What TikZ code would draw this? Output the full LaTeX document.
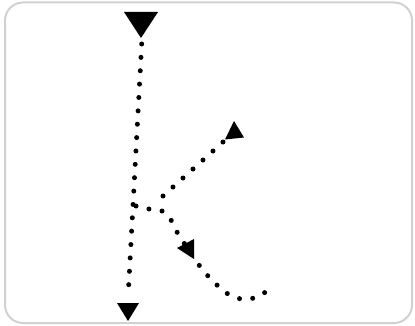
\documentclass[tikz,border=0pt]{standalone}
\begin{document}
\begin{tikzpicture}[x=1pt,y=-1pt,
  frame/.style={draw=black!18, line width=2pt, rounded corners=18pt},
  dotline/.style={line width=5pt, line cap=round, dash pattern=on 0pt off #1},
  tiphead/.style={fill=black}]
\useasboundingbox (0,0) rectangle (415,326);
\draw[frame] (5,2.5) rectangle (412,323);
% stroke 1: vertical
\coordinate (s1a) at (141.7,44);
\coordinate (s1b) at (128,298);
\draw[dotline=13.39pt] (s1a) -- (s1b);
\fill[tiphead] (124,12) -- (158,12) -- (141,38) -- cycle;
\fill[tiphead] (117,303) -- (139,303) -- (128,321) -- cycle;
% stroke 2: diagonal up
\coordinate (s2a) at (163,196);
\coordinate (s2b) at (223,142);
\draw[dotline=13.45pt] (s2a) -- (s2b);
\fill[tiphead] (234,121) -- (244,137.5) -- (225,139.5) -- cycle;
% stroke 3: leg
\draw[dotline=13.28pt] plot[smooth, tension=0.5] coordinates {(136,206) (149,209) (162,211) (171,220) (177,232) (188,249) (199,265) (208,276) (218,286) (228,294) (241,299) (254,298) (266.5,291.5)};
\fill[tiphead] (194,259) -- (177,248) -- (194,239) -- cycle;
\end{tikzpicture}
\end{document}
